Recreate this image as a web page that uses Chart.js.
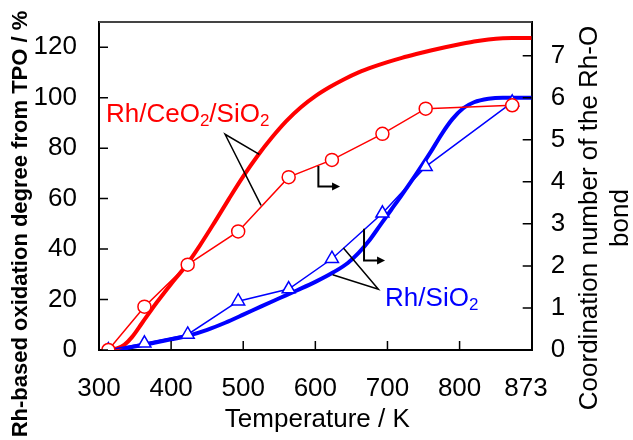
<!DOCTYPE html>
<html><head><meta charset="utf-8">
<script src="https://cdn.jsdelivr.net/npm/chart.js@4.4.1/dist/chart.umd.min.js"></script>
<style>html,body{margin:0;padding:0;background:#fff}#wrap{width:633px;height:440px;position:relative}</style>
</head><body><div id="wrap"><canvas id="c"></canvas></div>
<script>
// ---- tick labels ----
const xTickValues = [300, 400, 500, 600, 700, 800];
const xTickLabels = ['300', '400', '500', '600', '700', '800', '873'];
const leftTicks = [0, 20, 40, 60, 80, 100, 120];
const rightTicks = [0, 1, 2, 3, 4, 5, 6, 7];

// ---- TPO oxidation degree curves (left axis, %) ----
const tpoCeTemp = [313, 325, 335, 346, 360, 380, 400, 420, 440, 460, 480, 500, 520, 540, 560, 580, 600, 620, 640, 660, 680, 700, 720, 740, 760, 780, 800, 820, 840, 860, 873, 900];
const tpoCe     = [0, 0.6, 2, 5.2, 10.8, 18.8, 26.2, 33.2, 41.5, 50.5, 59.8, 68.8, 77, 84.3, 90.8, 96.2, 100.6, 104.2, 107.3, 110, 112.2, 114.1, 115.8, 117.3, 118.7, 120, 121.2, 122.3, 123.1, 123.6, 123.7, 123.7];
const tpoSiTemp = [313, 340, 370, 400, 423, 450, 475, 500, 525, 550, 575, 600, 625, 645, 660, 675, 690, 705, 720, 740, 760, 775, 790, 805, 820, 840, 860, 873, 900];
const tpoSi     = [0, 0.9, 2.5, 4.2, 5.6, 8, 10.8, 14, 17.3, 20.5, 23.7, 27, 30.8, 34.5, 38.5, 43.5, 49.5, 55.5, 61.5, 69.8, 78.5, 85.5, 91.5, 95.8, 98.2, 99.6, 100, 100, 100];

// ---- Coordination number of the Rh-O bond (right axis) ----
const cnTemp = [313, 363, 423, 493, 563, 623, 693, 753, 873];
const cnCe   = [0, 1.03, 2.03, 2.82, 4.11, 4.52, 5.14, 5.74, 5.82];
const cnSi   = [0, 0.16, 0.37, 1.16, 1.45, 2.17, 3.25, 4.36, 5.89];

// ---- texts ----
const xTitle = 'Temperature / K';
const yTitle = 'Rh-based oxidation degree from TPO / %';
const y2Title = ['Coordination number of the Rh-O', 'bond'];
const labelCe = [['Rh/CeO', false], ['2', true], ['/SiO', false], ['2', true]];
const labelSi = [['Rh/SiO', false], ['2', true]];

const RED = '#ff0000', BLUE = '#0000ff';
const FONT = "'Liberation Sans', Arial, sans-serif";
const pts = (xs, ys) => xs.map((x, i) => ({ x: x, y: ys[i] }));

function drawSubText(ctx, parts, x, y, color) {
  ctx.save();
  ctx.fillStyle = color; ctx.textBaseline = 'alphabetic'; ctx.textAlign = 'left';
  let cx = x;
  for (const [t, sub] of parts) {
    ctx.font = (sub ? '17px ' : '26px ') + FONT;
    ctx.fillText(t, cx, y + (sub ? 4 : 0));
    cx += ctx.measureText(t).width;
  }
  ctx.restore();
}

const decor = {
  id: 'decor',
  beforeDraw(chart) {
    const c = chart.ctx;
    c.save(); c.fillStyle = '#fff'; c.fillRect(0, 0, chart.width, chart.height); c.restore();
  },
  afterDraw(chart) {
    const c = chart.ctx, a = chart.chartArea;
    const xs = chart.scales.x, ys = chart.scales.y, y2 = chart.scales.y2;
    const X = v => xs.getPixelForValue(v), Y = v => ys.getPixelForValue(v);
    c.save();
    // top frame line
    c.strokeStyle = '#444'; c.lineWidth = 2;
    c.beginPath(); c.moveTo(a.left, a.top); c.lineTo(a.right, a.top); c.stroke();
    // inward tick marks
    c.strokeStyle = '#000'; c.lineWidth = 1.5;
    c.beginPath();
    leftTicks.forEach(v => { const p = ys.getPixelForValue(v); c.moveTo(a.left, p); c.lineTo(a.left + 9, p); });
    rightTicks.forEach(v => { const p = y2.getPixelForValue(v); c.moveTo(a.right, p); c.lineTo(a.right - 9, p); });
    xTickValues.forEach(v => { const p = xs.getPixelForValue(v); c.moveTo(p, a.bottom); c.lineTo(p, a.bottom - 9); });
    c.stroke();

    // leader lines
    c.lineWidth = 1.5; c.strokeStyle = '#000';
    const leader = (ap, e1, e2) => {
      c.beginPath();
      c.moveTo(X(e1[0]), Y(e1[1])); c.lineTo(X(ap[0]), Y(ap[1])); c.lineTo(X(e2[0]), Y(e2[1]));
      c.stroke();
    };
    leader([474.8, 85.5], [522.3, 77.5], [524.7, 57.3]);
    leader([687.4, 24.1], [638.9, 40.4], [624, 29.8]);

    // right-axis arrows
    c.lineWidth = 2; c.fillStyle = '#000';
    const arrow = (t0, vTop, vCorner, t1) => {
      const x0 = X(t0), yt = Y(vTop), yc = Y(vCorner), x1 = X(t1);
      c.beginPath(); c.moveTo(x0, yt); c.lineTo(x0, yc); c.lineTo(x1 - 6, yc); c.stroke();
      c.beginPath(); c.moveTo(x1, yc); c.lineTo(x1 - 8, yc - 4); c.lineTo(x1 - 8, yc + 4); c.closePath(); c.fill();
    };
    arrow(604.2, 72.9, 64.8, 634.3);
    arrow(667.5, 48.1, 35.5, 696.7);

    // series labels
    drawSubText(c, labelCe, X(309.7), Y(90.3), RED);
    drawSubText(c, labelSi, X(696.7), Y(17.5), BLUE);

    // axis titles
    c.fillStyle = '#000';
    c.textAlign = 'center'; c.textBaseline = 'alphabetic';
    c.font = '26px ' + FONT;
    c.fillText(xTitle, (a.left + a.right) / 2 + 2, 427);
    c.save();
    c.translate(27, 224); c.rotate(-Math.PI / 2);
    c.font = 'bold 22px ' + FONT;
    c.fillText(yTitle, 0, 0);
    c.restore();
    c.save();
    c.translate(a.right + 65, 218); c.rotate(-Math.PI / 2);
    c.font = '26px ' + FONT;
    c.fillText(y2Title[0], 0, 0);
    c.fillText(y2Title[1], 0, 31.5);
    c.restore();
    c.restore();
  }
};

const fitV = w => s => { s.width = w; s.paddingTop = 0; s.paddingBottom = 0; };

new Chart(document.getElementById('c'), {
  type: 'line',
  data: {
    datasets: [
      { label: 'Rh/CeO2/SiO2 CN', data: pts(cnTemp, cnCe), yAxisID: 'y2', order: 1,
        borderColor: RED, borderWidth: 1.5, pointStyle: 'circle', pointRadius: 6.5,
        pointBorderColor: RED, pointBackgroundColor: '#fff', pointBorderWidth: 1.5, tension: 0 },
      { label: 'Rh/SiO2 CN', data: pts(cnTemp, cnSi), yAxisID: 'y2', order: 1,
        borderColor: BLUE, borderWidth: 1.5, pointStyle: 'triangle', pointRadius: 7.5,
        pointBorderColor: BLUE, pointBackgroundColor: '#fff', pointBorderWidth: 1.5, tension: 0 },
      { label: 'Rh/CeO2/SiO2 TPO', data: pts(tpoCeTemp, tpoCe), yAxisID: 'y', order: 2,
        borderColor: RED, borderWidth: 4, pointRadius: 0, cubicInterpolationMode: 'monotone' },
      { label: 'Rh/SiO2 TPO', data: pts(tpoSiTemp, tpoSi), yAxisID: 'y', order: 2,
        borderColor: BLUE, borderWidth: 4, pointRadius: 0, cubicInterpolationMode: 'monotone' }
    ]
  },
  options: {
    responsive: true, maintainAspectRatio: false, animation: false, devicePixelRatio: 1,
    layout: { padding: { top: 22, left: 0, right: 0, bottom: 0 } },
    plugins: { legend: { display: false }, tooltip: { enabled: false } },
    scales: {
      x: {
        type: 'linear', position: 'bottom', min: 300, max: 900,
        afterBuildTicks: s => {
          // last label "873" sits just inside the right frame, as in the source figure
          s.ticks = xTickValues.map(v => ({ value: v })).concat([{ value: 892 }]);
        },
        afterFit: s => { s.height = 90; s.paddingLeft = 0; s.paddingRight = 0; },
        grid: { drawOnChartArea: false, drawTicks: false },
        border: { display: true, color: '#000', width: 2 },
        ticks: { padding: 23, color: '#000', font: { family: FONT, size: 26 },
                 maxRotation: 0, autoSkip: false, callback: (v, i) => xTickLabels[i] }
      },
      y: {
        type: 'linear', position: 'left', min: 0, max: 130,
        afterBuildTicks: s => { s.ticks = leftTicks.map(v => ({ value: v })); },
        afterFit: fitV(99),
        grid: { drawOnChartArea: false, drawTicks: false },
        border: { display: true, color: '#000', width: 2 },
        ticks: { padding: 22, color: '#000', font: { family: FONT, size: 26 } }
      },
      y2: {
        type: 'linear', position: 'right', min: 0, max: 7.8,
        afterBuildTicks: s => { s.ticks = rightTicks.map(v => ({ value: v })); },
        afterFit: fitV(101.3),
        grid: { drawOnChartArea: false, drawTicks: false },
        border: { display: true, color: '#000', width: 2 },
        ticks: { padding: 19, color: '#000', font: { family: FONT, size: 26 } }
      }
    }
  },
  plugins: [decor]
});
</script>
</body></html>
